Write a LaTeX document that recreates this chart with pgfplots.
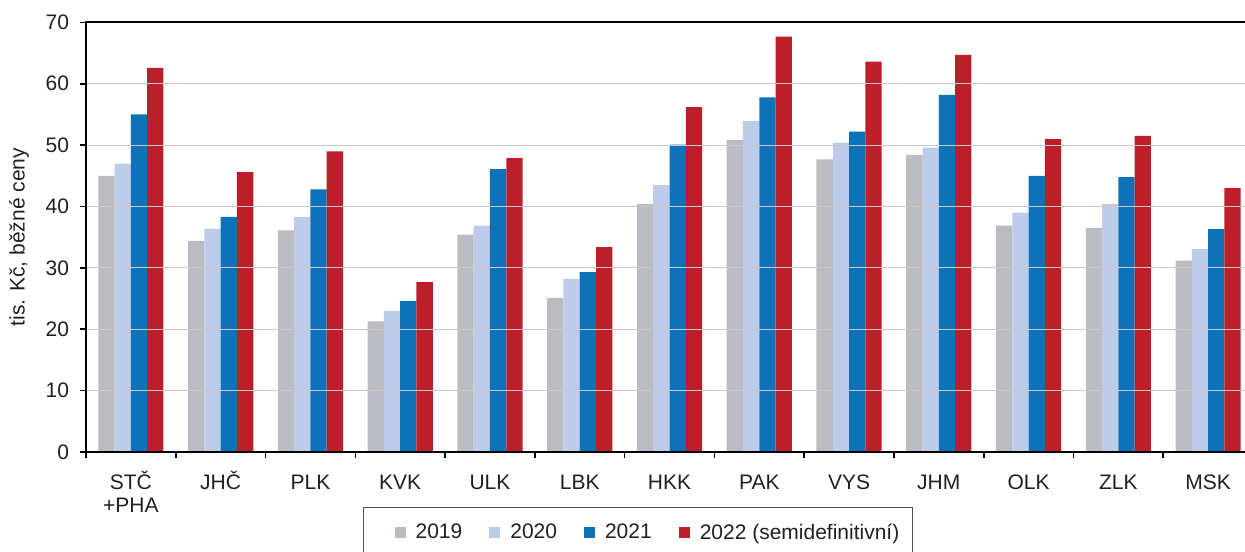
\documentclass[border=0pt]{standalone}
\usepackage{fontspec}
\setmainfont{Liberation Sans}
\usepackage{pgfplots}
\pgfplotsset{compat=1.18}
\definecolor{cA}{RGB}{187,188,193}
\definecolor{cB}{RGB}{189,205,233}
\definecolor{cC}{RGB}{14,114,185}
\definecolor{cD}{RGB}{189,31,42}
\definecolor{txt}{RGB}{35,31,32}
\definecolor{gridc}{RGB}{200,200,202}
\definecolor{legc}{RGB}{80,80,80}
\newcommand{\fs}{\fontsize{10.5}{11.5}\selectfont}
\newcommand{\ph}{\vphantom{Č}}
\begin{document}
\begin{tikzpicture}
\begin{axis}[
  at={(0pt,0pt)}, anchor=south west,
  scale only axis, width=583.5pt, height=214.8pt,
  set layers, axis on top,
  ybar=0pt, bar width=8.15pt,
  ymin=0, ymax=70, ytick={0,10,20,30,40,50,60,70},
  xmin=-0.5, xmax=12.5,
  xtick={-0.5,0.5,1.5,2.5,3.5,4.5,5.5,6.5,7.5,8.5,9.5,10.5,11.5,12.5},
  x tick label as interval,
  xticklabels={{STČ\\+PHA},{JHČ},{\ph PLK},{\ph KVK},{\ph ULK},{\ph LBK},{\ph HKK},{\ph PAK},{\ph VYS},{\ph JHM},{\ph OLK},{\ph ZLK},{\ph MSK}},
  tick pos=left, tick align=outside,
  major tick length=3pt,
  tick style={line width=0.8pt, black},
  axis line style={line width=1pt, black},
  ymajorgrids,
  grid style={line width=0.6pt, gridc, /pgfplots/on layer=axis background},
  /pgf/number format/assume math mode=true,
  tick label style={font=\fs, text=txt},
  xticklabel style={align=center, yshift=-3pt},
  yticklabel style={xshift=-2pt},
  ylabel={tis. Kč, běžné ceny},
  ylabel style={font=\fs, text=txt, at={(axis description cs:-0.0574,0.5)}, anchor=center},
  legend columns=4,
  legend style={at={(0.473,-0.1279)}, anchor=north, draw=legc, line width=0.75pt,
    font=\fs, text=txt, inner xsep=4.5pt, inner ysep=6pt,
    /tikz/every odd column/.append style={column sep=3pt},
    /tikz/every even column/.append style={column sep=0.5pt}},
  legend image code/.code={\path (-11pt,0pt); \fill[#1] (0pt,-2.75pt) rectangle (5.5pt,2.75pt);},
]
\addplot[fill=cA, draw=none] coordinates {(0,45.0) (1,34.4) (2,36.1) (3,21.3) (4,35.4) (5,25.1) (6,40.4) (7,50.8) (8,47.7) (9,48.4) (10,36.9) (11,36.5) (12,31.2)};
\addplot[fill=cB, draw=none] coordinates {(0,47.0) (1,36.4) (2,38.3) (3,23.0) (4,36.9) (5,28.2) (6,43.5) (7,53.9) (8,50.4) (9,49.6) (10,39.0) (11,40.4) (12,33.1)};
\addplot[fill=cC, draw=none] coordinates {(0,55.0) (1,38.3) (2,42.8) (3,24.6) (4,46.1) (5,29.3) (6,50.1) (7,57.8) (8,52.2) (9,58.2) (10,45.0) (11,44.8) (12,36.3)};
\addplot[fill=cD, draw=none] coordinates {(0,62.6) (1,45.6) (2,49.0) (3,27.7) (4,47.9) (5,33.4) (6,56.2) (7,67.7) (8,63.6) (9,64.7) (10,51.0) (11,51.5) (12,43.0)};
\legend{2019,2020,2021,2022 (semidefinitivní)}
\end{axis}
\pgfresetboundingbox
\path[use as bounding box] (-43pt,-49.5pt) rectangle (579.5pt,226pt);
\end{tikzpicture}
\end{document}
